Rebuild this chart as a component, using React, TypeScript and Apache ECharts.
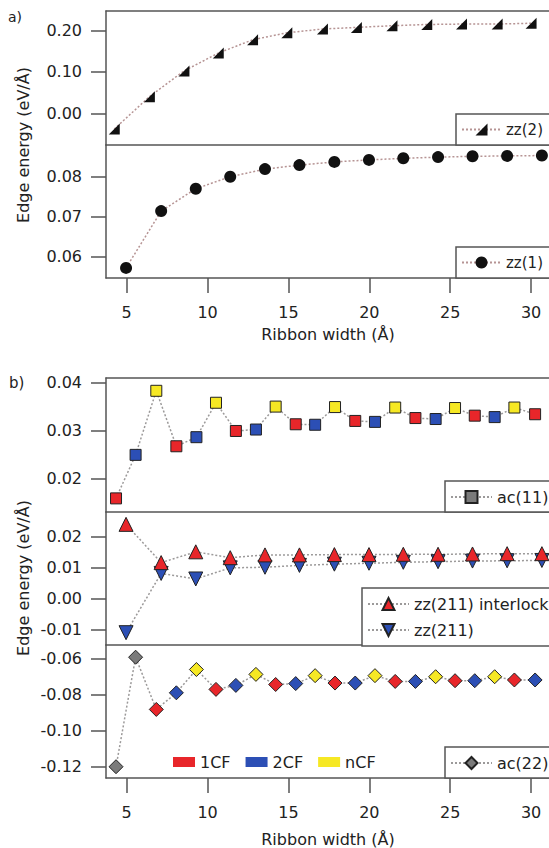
import React, { useEffect, useRef } from "react";
import * as echarts from "echarts";

// ---------- data ----------
const zzWidths = [4.96, 7.13, 9.27, 11.4, 13.55, 15.68, 17.84, 19.98, 22.1, 24.25, 26.38, 28.52, 30.67];
const zz2Widths = [4.23, 6.4, 8.54, 10.66, 12.78, 14.9, 17.1, 19.2, 21.4, 23.55, 25.7, 27.9, 30.0];
const zz2Energy = [-0.038, 0.04, 0.102, 0.145, 0.177, 0.194, 0.203, 0.207, 0.211, 0.214, 0.215, 0.215, 0.217];
const zz1Energy = [0.0572, 0.0714, 0.077, 0.08, 0.0819, 0.0829, 0.0837, 0.0842, 0.0846, 0.0849, 0.0851, 0.0852, 0.0853];

const acWidths = [4.34, 5.55, 6.83, 8.07, 9.31, 10.52, 11.75, 12.99, 14.21, 15.45, 16.65, 17.88, 19.13, 20.35, 21.6, 22.85, 24.1, 25.3, 26.52, 27.75, 28.97, 30.25];
const ac11Energy = [0.0158, 0.0249, 0.0383, 0.0267, 0.0286, 0.0358, 0.0299, 0.0302, 0.035, 0.0313, 0.0312, 0.0349, 0.032, 0.0318, 0.0348, 0.0326, 0.0324, 0.0347, 0.0331, 0.0328, 0.0348, 0.0334];
const ac11Type = ["1CF", "2CF", "nCF", "1CF", "2CF", "nCF", "1CF", "2CF", "nCF", "1CF", "2CF", "nCF", "1CF", "2CF", "nCF", "1CF", "2CF", "nCF", "1CF", "2CF", "nCF", "1CF"];
const ac22Energy = [-0.12, -0.0594, -0.0883, -0.0791, -0.0662, -0.0772, -0.075, -0.0689, -0.0745, -0.074, -0.0696, -0.0737, -0.0737, -0.0696, -0.0728, -0.0728, -0.0702, -0.0724, -0.0724, -0.0702, -0.072, -0.072];
const ac22Type = ["", "", "1CF", "2CF", "nCF", "1CF", "2CF", "nCF", "1CF", "2CF", "nCF", "1CF", "2CF", "nCF", "1CF", "2CF", "nCF", "1CF", "2CF", "nCF", "1CF", "2CF"];

const zz211InterlockEnergy = [0.024, 0.0116, 0.0151, 0.0132, 0.0141, 0.0141, 0.0142, 0.0142, 0.0143, 0.0143, 0.0144, 0.0145, 0.0145];
const zz211Energy = [-0.0111, 0.0081, 0.0063, 0.0099, 0.0101, 0.0107, 0.0111, 0.0114, 0.0117, 0.0119, 0.0121, 0.0122, 0.0123];

const xTicks = [5, 10, 15, 20, 25, 30];
const yTicksA1 = [0, 0.1, 0.2];
const yTicksA2 = [0.06, 0.07, 0.08];
const yTicksB1 = [0.02, 0.03, 0.04];
const yTicksB2 = [-0.01, 0, 0.01, 0.02];
const yTicksB3 = [-0.12, -0.1, -0.08, -0.06];

const cfNames = ["1CF", "2CF", "nCF"];

// ---------- styles ----------
const FONT = "'DejaVu Sans', Verdana, sans-serif";
const FRAME = "#555";
const TXT = "#222";
const typeColor: Record<string, string> = { "1CF": "#e8262a", "2CF": "#2c4fb5", "nCF": "#f6e824", "": "#7b7b7b" };

// plot area runs past the right edge of the page (the figure is cropped there)
const X_MIN = 3.72;
const X_MAX = 32.16;

function buildOption() {
  const gridPos = [
    { top: 11, height: 134 },
    { top: 145, height: 133 },
    { top: 378, height: 134 },
    { top: 512, height: 133 },
    { top: 645, height: 133 },
  ];
  const grid = gridPos.map((g) => ({
    left: 106,
    width: 460,
    top: g.top,
    height: g.height,
    show: false,
    outerBoundsMode: "none",
    containLabel: false,
  }));

  const yRanges = [
    { min: -0.0764, max: 0.2465, ticks: yTicksA1 },
    { min: 0.05468, max: 0.08793, ticks: yTicksA2 },
    { min: 0.01295, max: 0.04098, ticks: yTicksB1 },
    { min: -0.01509, max: 0.028, ticks: yTicksB2 },
    { min: -0.12625, max: -0.05264, ticks: yTicksB3 },
  ];

  const frameLine = { show: true, onZero: false, lineStyle: { color: FRAME, width: 1.5 } };

  const xAxis: any[] = [0, 1, 2, 3, 4].map((i) => {
    const bottom = i === 1 || i === 4;
    return {
      type: "value",
      gridIndex: i,
      position: "bottom",
      min: X_MIN,
      max: X_MAX,
      axisLine: frameLine,
      splitLine: { show: false },
      axisTick: {
        show: bottom,
        customValues: xTicks,
        length: 15,
        lineStyle: { color: FRAME, width: 1.5 },
      },
      axisLabel: {
        show: bottom,
        customValues: xTicks,
        margin: 26,
        fontSize: 16,
        color: TXT,
        fontFamily: FONT,
      },
      name: "",
    };
  });
  [0, 2].forEach((i) => {
    xAxis.push({
      type: "value",
      gridIndex: i,
      position: "top",
      min: X_MIN,
      max: X_MAX,
      axisLine: frameLine,
      axisTick: { show: false },
      axisLabel: { show: false },
      splitLine: { show: false },
    });
  });

  const yAxis = yRanges.map((r, i) => ({
    type: "value",
    gridIndex: i,
    min: r.min,
    max: r.max,
    axisLine: frameLine,
    splitLine: { show: false },
    axisTick: {
      show: true,
      customValues: r.ticks,
      length: 15,
      lineStyle: { color: FRAME, width: 1.5 },
    },
    axisLabel: {
      show: true,
      customValues: r.ticks,
      margin: 24,
      fontSize: 16,
      color: TXT,
      fontFamily: FONT,
      formatter: (v: number) => v.toFixed(2),
    },
  }));

  const dottedA = { color: "#b69494", width: 1.5, type: [2, 2] };
  const dottedB = { color: "#9c9a9a", width: 1.5, type: [2, 2] };

  const series: any[] = [
    {
      name: "zz(2)",
      type: "line",
      xAxisIndex: 0,
      yAxisIndex: 0,
      data: zz2Widths.map((x, i) => [x, zz2Energy[i]]),
      symbol: "path://M10 0L10 10L0 10Z",
      symbolSize: 11,
      itemStyle: { color: "#111" },
      lineStyle: dottedA,
    },
    {
      name: "zz(1)",
      type: "line",
      xAxisIndex: 1,
      yAxisIndex: 1,
      data: zzWidths.map((x, i) => [x, zz1Energy[i]]),
      symbol: "circle",
      symbolSize: 12,
      itemStyle: { color: "#111" },
      lineStyle: dottedA,
    },
    {
      name: "ac(11)",
      type: "line",
      xAxisIndex: 2,
      yAxisIndex: 2,
      data: acWidths.map((x, i) => ({ value: [x, ac11Energy[i]], itemStyle: { color: typeColor[ac11Type[i]] } })),
      symbol: "rect",
      symbolSize: 11,
      itemStyle: { color: "#7b7b7b", borderColor: "#222", borderWidth: 1 },
      lineStyle: dottedB,
    },
    {
      name: "zz(211)",
      type: "line",
      xAxisIndex: 3,
      yAxisIndex: 3,
      data: zzWidths.map((x, i) => [x, zz211Energy[i]]),
      symbol: "triangle",
      symbolRotate: 180,
      symbolSize: 14,
      itemStyle: { color: typeColor["2CF"], borderColor: "#222", borderWidth: 1 },
      lineStyle: dottedB,
    },
    {
      name: "zz(211) interlock",
      type: "line",
      xAxisIndex: 3,
      yAxisIndex: 3,
      data: zzWidths.map((x, i) => [x, zz211InterlockEnergy[i]]),
      symbol: "triangle",
      symbolSize: 14,
      itemStyle: { color: typeColor["1CF"], borderColor: "#222", borderWidth: 1 },
      lineStyle: dottedB,
    },
    {
      name: "ac(22)",
      type: "line",
      xAxisIndex: 4,
      yAxisIndex: 4,
      data: acWidths.map((x, i) => ({ value: [x, ac22Energy[i]], itemStyle: { color: typeColor[ac22Type[i]] } })),
      symbol: "diamond",
      symbolSize: 14,
      itemStyle: { color: "#7b7b7b", borderColor: "#222", borderWidth: 1 },
      lineStyle: dottedB,
    },
    ...cfNames.map((n) => ({
      name: n,
      type: "scatter",
      xAxisIndex: 4,
      yAxisIndex: 4,
      data: [],
      itemStyle: { color: typeColor[n], opacity: 1 },
    })),
  ];

  const boxLegend = {
    backgroundColor: "#fff",
    borderColor: FRAME,
    borderWidth: 1.5,
    padding: [8, 10, 7, 5],
    itemWidth: 41,
    itemHeight: 15,
    selectedMode: false,
    textStyle: { fontSize: 16, color: TXT, fontFamily: FONT },
  };
  const zzLegend = {
    ...boxLegend,
    padding: [8, 10, 8, 5],
    itemWidth: 39,
    textStyle: { fontSize: 15, color: TXT, fontFamily: FONT },
  };

  const legend = [
    { ...zzLegend, data: ["zz(2)"], left: 456, top: 114 },
    { ...zzLegend, data: ["zz(1)"], left: 456, top: 247 },
    { ...boxLegend, data: ["ac(11)"], left: 445, top: 481 },
    { ...boxLegend, padding: [8, 10, 8, 5], data: ["zz(211) interlock", "zz(211)"], left: 362, top: 588, orient: "vertical", itemGap: 10 },
    { ...boxLegend, data: ["ac(22)"], left: 445, top: 747 },
    {
      data: cfNames,
      left: 173,
      top: 754,
      icon: "rect",
      itemWidth: 22,
      itemHeight: 10,
      itemGap: 15,
      padding: 0,
      selectedMode: false,
      textStyle: { fontSize: 16, color: TXT, fontFamily: FONT },
    },
  ];

  const textStyle = { fontSize: 16, fill: TXT, fontFamily: FONT };
  const graphic = [
    { type: "text", x: 8, y: 10, style: { text: "a)", fontSize: 14, fill: TXT, fontFamily: FONT } },
    { type: "text", x: 9, y: 375, style: { text: "b)", fontSize: 15, fill: TXT, fontFamily: FONT } },
    { type: "text", x: 23, y: 145, rotation: Math.PI / 2, style: { ...textStyle, text: "Edge energy (eV/Å)", textAlign: "center", textVerticalAlign: "middle" } },
    { type: "text", x: 23, y: 578, rotation: Math.PI / 2, style: { ...textStyle, text: "Edge energy (eV/Å)", textAlign: "center", textVerticalAlign: "middle" } },
    { type: "text", x: 328, y: 334, style: { ...textStyle, text: "Ribbon width (Å)", textAlign: "center", textVerticalAlign: "middle" } },
    { type: "text", x: 328, y: 839, style: { ...textStyle, text: "Ribbon width (Å)", textAlign: "center", textVerticalAlign: "middle" } },
  ];

  return {
    animation: false,
    backgroundColor: "#fff",
    textStyle: { fontFamily: FONT },
    grid,
    xAxis,
    yAxis,
    series,
    legend,
    graphic,
  };
}

export default function App() {
  const ref = useRef<HTMLDivElement>(null);
  useEffect(() => {
    document.body.style.margin = "0";
    const chart = echarts.init(ref.current!, null, { renderer: "svg" });
    chart.setOption(buildOption() as any);
    return () => chart.dispose();
  }, []);
  return <div ref={ref} style={{ width: 549, height: 848 }} />;
}
